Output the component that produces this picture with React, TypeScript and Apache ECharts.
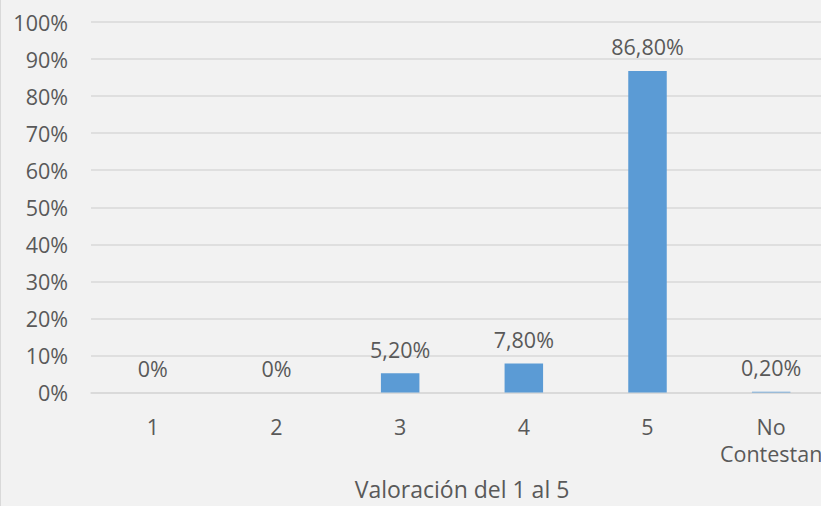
import React, { useEffect, useRef } from "react";
import * as echarts from "echarts";

const categories = ["1", "2", "3", "4", "5", "No\nContestan"];
const values = [0, 0, 5.2, 7.8, 86.8, 0.2];
const yTicks = [0, 10, 20, 30, 40, 50, 60, 70, 80, 90, 100];
const xAxisTitle = "Valoración del 1 al 5";

const FONT = "'Open Sans', sans-serif";
const TEXT = "#595959";

export default function App() {
  const ref = useRef<HTMLDivElement>(null);
  useEffect(() => {
    if (!ref.current) return;
    const chart = echarts.init(ref.current, undefined, { renderer: "svg" });
    chart.setOption({
      animation: false,
      backgroundColor: "#F2F2F2",
      grid: { left: 90, top: 22, right: 0, bottom: 113.5, containLabel: false },
      xAxis: {
        type: "category",
        data: categories,
        axisLine: { show: true, lineStyle: { color: "#D9D9D9", width: 1.5 } },
        axisTick: { show: false },
        axisLabel: {
          color: TEXT,
          fontFamily: FONT,
          fontSize: 21.5,
          lineHeight: 27,
          margin: 20,
          interval: 0,
        },
        name: xAxisTitle,
        nameLocation: "middle",
        nameGap: 84,
        nameTextStyle: { color: TEXT, fontFamily: FONT, fontSize: 23, lineHeight: 24 },
      },
      yAxis: {
        type: "value",
        min: yTicks[0],
        max: yTicks[yTicks.length - 1],
        interval: 10,
        axisLine: { show: false },
        axisTick: { show: false },
        splitLine: { lineStyle: { color: "#D9D9D9", width: 1.5 } },
        axisLabel: {
          color: TEXT,
          fontFamily: FONT,
          fontSize: 21.5,
          margin: 23,
          formatter: (v: number) => `${v}%`,
        },
      },
      series: [
        {
          type: "bar",
          data: values,
          barWidth: 38.5,
          itemStyle: { color: "#5B9BD5" },
          label: {
            show: true,
            position: "top",
            distance: 14,
            color: TEXT,
            fontFamily: FONT,
            fontSize: 21.5,
            lineHeight: 20,
            formatter: (p: any) =>
              p.value === 0 ? "0%" : `${p.value.toFixed(2).replace(".", ",")}%`,
          },
        },
      ],
    });
    return () => chart.dispose();
  }, []);
  return (
    <div
      style={{
        position: "fixed",
        left: 0,
        top: 0,
        width: 821,
        height: 506,
        overflow: "hidden",
        boxSizing: "border-box",
        borderLeft: "1.5px solid #D9D9D9",
        background: "#F2F2F2",
      }}
    >
      <div ref={ref} style={{ width: 832, height: 506 }} />
    </div>
  );
}
